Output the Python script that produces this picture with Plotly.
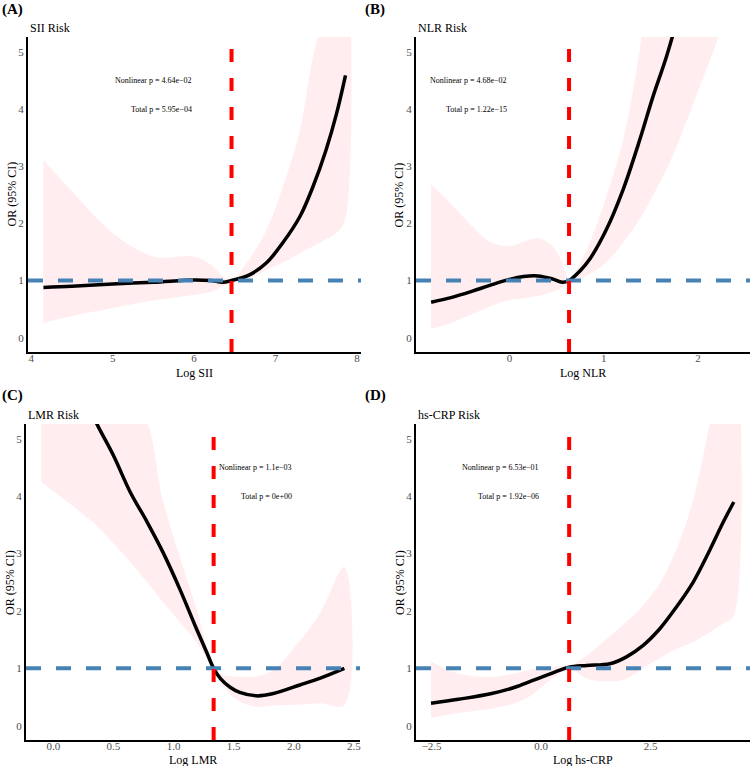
import plotly.graph_objects as go
from plotly.subplots import make_subplots

# ---------- Data ----------
# (A) SII
sii_x = [4.15, 4.5, 5.0, 5.5, 6.0, 6.2, 6.35, 6.46, 6.68, 6.89, 7.09, 7.30, 7.46, 7.62, 7.75, 7.86]
sii_or = [0.88, 0.90, 0.94, 0.97, 1.01, 1.00, 0.97, 1.00, 1.10, 1.31, 1.66, 2.12, 2.64, 3.28, 3.92, 4.59]
sii_lo = [0.26, 0.38, 0.52, 0.65, 0.75, 0.80, 0.90, 0.99, 1.03, 1.19, 1.31, 1.48, 1.60, 1.72, 1.83, 2.09]
sii_hi = [3.11, 2.56, 1.83, 1.42, 1.42, 1.28, 1.08, 1.01, 1.37, 1.89, 2.64, 3.63, 4.90, 5.80, 6.40, 7.00]
sii_ref = 6.46

# (B) NLR
nlr_x = [-0.83, -0.6, -0.4, -0.2, 0.0, 0.15, 0.3, 0.45, 0.56, 0.632, 0.75, 0.854, 1.03,
         1.207, 1.383, 1.524, 1.665, 1.8, 2.0, 2.21, 2.39]
nlr_or = [0.62, 0.71, 0.81, 0.92, 1.02, 1.07, 1.08, 1.03, 0.97, 1.00, 1.17, 1.38, 1.90,
          2.60, 3.47, 4.23, 4.92, 5.70, 7.00, 8.50, 10.0]
nlr_lo = [0.15, 0.27, 0.41, 0.55, 0.66, 0.69, 0.73, 0.80, 0.88, 0.98, 1.04, 1.12, 1.32,
          1.67, 2.08, 2.50, 2.95, 3.46, 4.32, 5.24, 6.20]
nlr_hi = [2.69, 2.31, 1.96, 1.67, 1.60, 1.68, 1.74, 1.61, 1.32, 1.02, 1.30, 1.67, 2.48,
          3.47, 5.05, 7.0, 8.0, 9.0, 11.0, 13.0, 15.0]
nlr_ref = 0.632

# (C) LMR
lmr_x = [-0.10, 0.08, 0.22, 0.36, 0.50, 0.64, 0.78, 0.91, 1.05, 1.19, 1.275, 1.333,
         1.39, 1.47, 1.55, 1.69, 1.83, 2.05, 2.22, 2.42]
lmr_or = [7.6, 6.6, 5.9, 5.27, 4.71, 4.07, 3.55, 3.03, 2.39, 1.69, 1.28, 1.00,
          0.82, 0.67, 0.58, 0.52, 0.56, 0.71, 0.83, 1.00]
lmr_lo = [4.25, 3.96, 3.73, 3.49, 3.18, 2.85, 2.50, 2.16, 1.81, 1.46, 1.18, 0.98,
          0.76, 0.55, 0.42, 0.33, 0.35, 0.37, 0.39, 0.36]
lmr_hi = [9.0, 8.5, 7.5, 6.8, 6.1, 5.6, 5.26, 3.93, 2.95, 2.04, 1.39, 1.02,
          0.90, 0.86, 0.85, 0.86, 0.97, 1.48, 1.97, 2.77]
lmr_ref = 1.333

# (D) hs-CRP
crp_x = [-2.515, -1.89, -1.13, -0.6, -0.22, 0.16, 0.43, 0.64, 1.04, 1.57, 1.95, 2.33,
         2.71, 3.09, 3.47, 3.85, 4.16, 4.40]
crp_or = [0.39, 0.46, 0.56, 0.67, 0.78, 0.89, 0.97, 1.02, 1.05, 1.08, 1.20, 1.40,
          1.69, 2.07, 2.50, 3.06, 3.55, 3.90]
crp_lo = [0.14, 0.22, 0.30, 0.39, 0.53, 0.77, 0.91, 1.00, 0.82, 0.77, 0.82, 1.00,
          1.18, 1.34, 1.46, 1.63, 1.78, 1.92]
crp_hi = [1.12, 0.91, 0.85, 0.91, 0.98, 1.02, 1.03, 1.04, 1.22, 1.56, 1.81, 2.10,
          2.48, 3.07, 3.93, 5.27, 6.5, 7.5]
crp_ref = 0.64

panel_tags = ["(A)", "(B)", "(C)", "(D)"]
panel_titles = ["SII Risk", "NLR Risk", "LMR Risk", "hs-CRP Risk"]
x_titles = ["Log SII", "Log NLR", "Log LMR", "Log hs-CRP"]
y_title = "OR (95% CI)"
p_nonlinear = ["4.64e\u221202", "4.68e\u221202", "1.1e\u221203", "6.53e\u221201"]
p_total = ["5.95e\u221204", "1.22e\u221215", "0e+00", "1.92e\u221206"]
text_x = [6.0, 0.0, 2.0, 0.0]  # right edge of the p-value text, data units

# ---------- Styling ----------
FONT = "Liberation Serif"
PINK = "rgba(255,182,193,0.25)"
BLUE = "#4682B4"
RED = "#FF0000"

x_ranges = [[3.96, 8.05], [-0.99, 2.55], [-0.227, 2.55], [-2.857, 4.77]]
x_dticks = [1, 1, 0.5, 2.5]
x_formats = ["d", "d", ".1f", ".1f"]
Y_RANGE = [-0.25, 5.26]

x_domains = [[0.0373, 0.4813], [0.5547, 1.0], [0.0347, 0.48], [0.5547, 1.0]]
y_domains = [[0.5405, 0.9517], [0.5405, 0.9517], [0.0339, 0.4465], [0.0339, 0.4465]]
tag_pos = [(0.0, 0.987), (0.484, 0.987), (0.0, 0.4843), (0.484, 0.4843)]
subtitle_y = [0.9634, 0.9634, 0.4586, 0.4586]
xtitle_y = [0.5135, 0.5135, 0.0080, 0.0080]
ytitle_x = [0.016, 0.5333, 0.0133, 0.5333]

panels = [
    (sii_x, sii_or, sii_lo, sii_hi, sii_ref),
    (nlr_x, nlr_or, nlr_lo, nlr_hi, nlr_ref),
    (lmr_x, lmr_or, lmr_lo, lmr_hi, lmr_ref),
    (crp_x, crp_or, crp_lo, crp_hi, crp_ref),
]


def text(x, y, s, size, xref="paper", yref="paper", xanchor="center", angle=0):
    return dict(x=x, y=y, xref=xref, yref=yref, text=s, showarrow=False,
                xanchor=xanchor, yanchor="middle", textangle=angle,
                font=dict(family=FONT, size=size, color="black"))


def main():
    fig = make_subplots(rows=2, cols=2)
    annotations = []
    shapes = []

    for i, (xs, orv, lo, hi, ref) in enumerate(panels):
        row, col = i // 2 + 1, i % 2 + 1
        n = i + 1
        xref = "x" if n == 1 else f"x{n}"
        yref = "y" if n == 1 else f"y{n}"

        # CI band
        fig.add_trace(
            go.Scatter(x=xs + xs[::-1], y=hi + lo[::-1], fill="toself",
                       fillcolor=PINK, line=dict(width=0, shape="spline"),
                       mode="lines", hoverinfo="skip"),
            row=row, col=col)
        # OR curve
        fig.add_trace(
            go.Scatter(x=xs, y=orv, mode="lines",
                       line=dict(color="black", width=3.5, shape="spline", smoothing=1)),
            row=row, col=col)

        # reference lines (drawn over the curve, as in the original)
        shapes.append(dict(type="line", xref=f"{xref} domain", yref=yref,
                           x0=0, x1=1, y0=1, y1=1,
                           line=dict(color=BLUE, width=4, dash="15px,15px")))
        shapes.append(dict(type="line", xref=xref, yref=f"{yref} domain",
                           x0=ref, x1=ref, y0=0, y1=1,
                           line=dict(color=RED, width=4, dash="13px,16px")))

        # p-values
        annotations.append(text(text_x[i], 4.5, f"Nonlinear p = {p_nonlinear[i]}", 8,
                                xref=xref, yref=yref, xanchor="right"))
        annotations.append(text(text_x[i], 4.0, f"Total p = {p_total[i]}", 8,
                                xref=xref, yref=yref, xanchor="right"))

        # panel tag, subtitle, axis titles
        annotations.append(text(tag_pos[i][0], tag_pos[i][1], f"<b>{panel_tags[i]}</b>", 15,
                                xanchor="left"))
        annotations.append(text(x_domains[i][0], subtitle_y[i], panel_titles[i], 12,
                                xanchor="left"))
        annotations.append(text(sum(x_domains[i]) / 2, xtitle_y[i], x_titles[i], 12))
        annotations.append(text(ytitle_x[i], sum(y_domains[i]) / 2, y_title, 12, angle=-90))

        fig.update_xaxes(domain=x_domains[i], range=x_ranges[i], dtick=x_dticks[i],
                         tick0=0, tickformat=x_formats[i], row=row, col=col)
        fig.update_yaxes(domain=y_domains[i], range=Y_RANGE, dtick=1, tick0=0,
                         row=row, col=col)

    axis_style = dict(showgrid=False, zeroline=False, showline=True, linecolor="black",
                      linewidth=2, ticks="", automargin=False,
                      tickfont=dict(family=FONT, size=11, color="#4D4D4D"))
    fig.update_xaxes(ticklabelstandoff=-5, **axis_style)
    fig.update_yaxes(**axis_style)

    fig.update_layout(
        width=750, height=766,
        margin=dict(l=0, r=0, t=0, b=0),
        showlegend=False,
        plot_bgcolor="white", paper_bgcolor="white",
        font=dict(family=FONT),
        annotations=annotations,
        shapes=shapes,
    )

    # page has a default 8px body margin; drop it so the figure fills the window
    fig.write_html("out.html", config={"displayModeBar": False},
                   post_script="document.body.style.margin='0';")


if __name__ == "__main__":
    main()
